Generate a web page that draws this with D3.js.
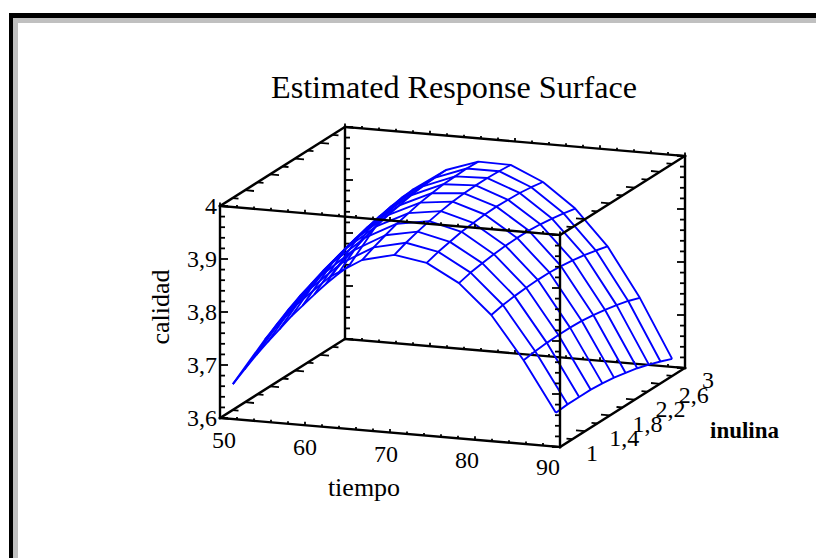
<!DOCTYPE html>
<html>
<head>
<meta charset="utf-8">
<script src="https://cdnjs.cloudflare.com/ajax/libs/d3/7.8.5/d3.min.js"></script>
<style>
html, body { margin: 0; padding: 0; background: #fff; }
svg { display: block; font-family: "Liberation Serif", serif; }
</style>
</head>
<body>
<svg id="plot" width="816" height="558"></svg>
<script>
const tiempo = [51, 54.8, 58.6, 62.4, 66.2, 70, 73.8, 77.6, 81.4, 85.2, 89];
const inulina = [1.07, 1.256, 1.442, 1.628, 1.814, 2, 2.186, 2.372, 2.558, 2.744, 2.93];
// calidad, one row per tiempo, one column per inulina
const calidad = [
    [3.660, 3.674, 3.687, 3.698, 3.708, 3.718, 3.725, 3.732, 3.738, 3.742, 3.745],
    [3.750, 3.764, 3.778, 3.790, 3.800, 3.810, 3.818, 3.826, 3.832, 3.836, 3.840],
    [3.822, 3.835, 3.847, 3.858, 3.868, 3.876, 3.883, 3.889, 3.894, 3.898, 3.900],
    [3.878, 3.890, 3.900, 3.910, 3.918, 3.925, 3.930, 3.935, 3.938, 3.940, 3.941],
    [3.915, 3.925, 3.934, 3.942, 3.948, 3.954, 3.958, 3.961, 3.962, 3.963, 3.962],
    [3.930, 3.939, 3.946, 3.952, 3.957, 3.961, 3.963, 3.964, 3.964, 3.963, 3.961],
    [3.920, 3.927, 3.932, 3.937, 3.940, 3.942, 3.943, 3.942, 3.941, 3.938, 3.934],
    [3.887, 3.893, 3.897, 3.900, 3.902, 3.903, 3.903, 3.901, 3.898, 3.894, 3.889],
    [3.832, 3.837, 3.840, 3.842, 3.843, 3.843, 3.841, 3.838, 3.834, 3.829, 3.823],
    [3.752, 3.755, 3.757, 3.758, 3.758, 3.757, 3.754, 3.750, 3.745, 3.739, 3.731],
    [3.658, 3.660, 3.660, 3.660, 3.658, 3.655, 3.650, 3.645, 3.638, 3.630, 3.621]
];
const tiempoLabels = [50, 60, 70, 80, 90];
const inulinaLabels = ["1", "1,4", "1,8", "2,2", "2,6", "3"];
const calidadLabels = ["3,6", "3,7", "3,8", "3,9", "4"];

const svg = d3.select("#plot");

// oblique projection: each data axis adds a fixed screen vector
const tx = d3.scaleLinear().domain([50, 90]).range([0, 340]);
const ty = d3.scaleLinear().domain([50, 90]).range([0, 29]);
const ix = d3.scaleLinear().domain([1, 3]).range([0, 125]);
const iy = d3.scaleLinear().domain([1, 3]).range([0, -79]);
const zy = d3.scaleLinear().domain([3.6, 4]).range([0, -212]);

const proj = (t, i, z) => [220 + tx(t) + ix(i), 418 + ty(t) + iy(i) + zy(z)];
const line = d3.line();

// frame of the page
svg.append("rect").attr("x", 9).attr("y", 13).attr("width", 807).attr("height", 5).attr("fill", "#000");
svg.append("rect").attr("x", 9).attr("y", 13).attr("width", 4).attr("height", 545).attr("fill", "#000");
svg.append("rect").attr("x", 13).attr("y", 18).attr("width", 803).attr("height", 5).attr("fill", "#c0c0c0");
svg.append("rect").attr("x", 13).attr("y", 18).attr("width", 5).attr("height", 540).attr("fill", "#c0c0c0");

const drawEdge = function (a, b) {
    svg.append("path").attr("d", line([proj(...a), proj(...b)]))
        .attr("fill", "none").attr("stroke", "#000").attr("stroke-width", 2.4).attr("stroke-linecap", "square");
};

const drawTick = function (p, dx, dy) {
    svg.append("path").attr("d", line([p, [p[0] + dx, p[1] + dy]]))
        .attr("fill", "none").attr("stroke", "#000").attr("stroke-width", 1.8);
};

const zTicks = d3.range(0, 21).map(d => 3.6 + d * 0.02);
const tTicks = tx.ticks(20);
const iTicks = d3.range(0, 11).map(d => 1 + d * 0.2);

// ticks along the vertical edges, pointing into the box
const drawZTicks = function (t, i, dir) {
    zTicks.forEach((z, n) => drawTick(proj(t, i, z), dir * (n % 5 === 0 ? 8 : 5), 0));
};
// ticks along the tiempo edges, short bumps
const drawTTicks = function (i, z, dir) {
    tTicks.forEach(t => drawTick(proj(t, i, z), 0, dir * (t % 10 === 0 ? 3.5 : 2.5)));
};
// ticks along the inulina edges, pointing along tiempo
const drawITicks = function (t, z, dir) {
    iTicks.forEach((i, n) => drawTick(proj(t, i, z), dir * (n % 2 === 0 ? 9 : 6), dir * (n % 2 === 0 ? 0.8 : 0.5)));
};

// back of the box, behind the surface
drawEdge([50, 3, 3.6], [90, 3, 3.6]);
drawEdge([50, 3, 3.6], [50, 3, 4]);
drawEdge([50, 3, 4], [90, 3, 4]);
drawEdge([90, 3, 3.6], [90, 3, 4]);
drawZTicks(50, 3, 1);
drawZTicks(90, 3, -1);
drawTTicks(3, 3.6, -1);
drawTTicks(3, 4, -1);

// surface wireframe
const surface = svg.append("g").attr("fill", "none").attr("stroke", "#0000ff")
    .attr("stroke-width", 1.9).attr("stroke-linejoin", "round");
inulina.forEach((iv, c) => {
    surface.append("path").attr("d", line(tiempo.map((tv, r) => proj(tv, iv, calidad[r][c]))));
});
tiempo.forEach((tv, r) => {
    surface.append("path").attr("d", line(inulina.map((iv, c) => proj(tv, iv, calidad[r][c]))));
});

// front of the box, over the surface
drawEdge([50, 1, 3.6], [90, 1, 3.6]);
drawEdge([50, 1, 3.6], [50, 1, 4]);
drawEdge([50, 1, 4], [90, 1, 4]);
drawEdge([90, 1, 3.6], [90, 1, 4]);
drawEdge([50, 1, 3.6], [50, 3, 3.6]);
drawEdge([50, 1, 4], [50, 3, 4]);
drawEdge([90, 1, 3.6], [90, 3, 3.6]);
drawEdge([90, 1, 4], [90, 3, 4]);
drawZTicks(50, 1, 1);
drawZTicks(90, 1, -1);
drawTTicks(1, 3.6, -1);
drawTTicks(1, 4, -1);
drawITicks(50, 3.6, 1);
drawITicks(50, 4, 1);
drawITicks(90, 3.6, -1);
drawITicks(90, 4, -1);

// text
const addText = function (s, x, y, size, anchor) {
    return svg.append("text").attr("x", x).attr("y", y).attr("font-size", size)
        .attr("text-anchor", anchor).attr("fill", "#000").text(s);
};

addText("Estimated Response Surface", 454, 98, 31, "middle").attr("textLength", 366).attr("lengthAdjust", "spacingAndGlyphs");

const zLabelY = d3.scalePoint().domain(calidadLabels).range([418, 206]);
calidadLabels.forEach(d => addText(d, 217, zLabelY(d) + 8, 24, "end"));

const tLabelX = d3.scalePoint().domain(tiempoLabels).range([224, 548]);
const tLabelY = d3.scalePoint().domain(tiempoLabels).range([448, 475]);
tiempoLabels.forEach(d => addText(d, tLabelX(d), tLabelY(d), 24, "middle"));

const iLabelX = d3.scalePoint().domain(inulinaLabels).range([586, 702]);
const iLabelY = d3.scalePoint().domain(inulinaLabels).range([461, 388]);
inulinaLabels.forEach(d => addText(d, iLabelX(d), iLabelY(d), 24, "start"));

addText("tiempo", 364, 496, 26, "middle");
addText("calidad", 0, 0, 26, "middle").attr("transform", "translate(169,307) rotate(-90)");
addText("inulina", 710, 438, 23, "start").attr("font-weight", "bold");
</script>
</body>
</html>
